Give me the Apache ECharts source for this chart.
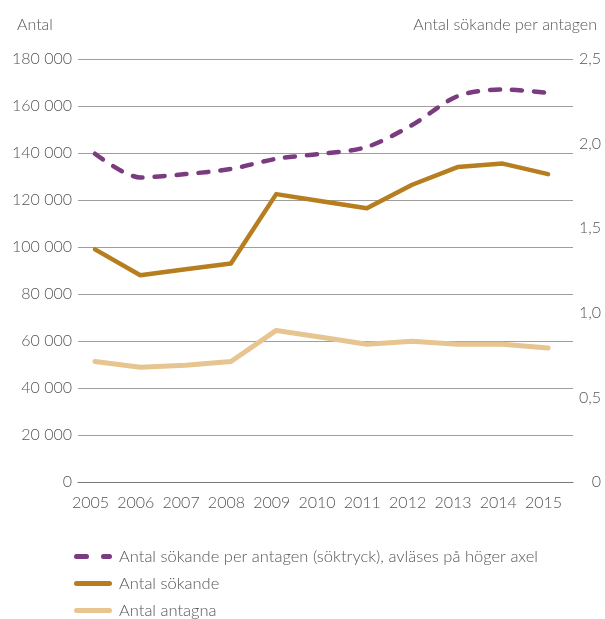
<!DOCTYPE html>
<html>
<head>
<meta charset="utf-8">
<script src="https://cdn.jsdelivr.net/npm/echarts@6/dist/echarts.min.js"></script>
<style>
  html, body { margin: 0; padding: 0; background: #fff; }
  #chart { width: 605px; height: 619px; }
</style>
</head>
<body>
<div id="chart"></div>
<script>
// år på x-axeln
var years = [2005, 2006, 2007, 2008, 2009, 2010, 2011, 2012, 2013, 2014, 2015];
var sokande = [99000, 88000, 90500, 93000, 122500, 119500, 116500, 126500, 134000, 135500, 131000];
var antagna = [51300, 48800, 49700, 51300, 64500, 61600, 58600, 59900, 58600, 58600, 57000];
var soktryck = [1.94, 1.80, 1.82, 1.85, 1.91, 1.94, 1.98, 2.11, 2.28, 2.32, 2.30];

var nameTryck = 'Antal sökande per antagen (söktryck), avläses på höger axel';
var nameSok = 'Antal sökande';
var nameAnt = 'Antal antagna';

var font = 'Lato';
var textColor = '#555';

// legendikoner: streckad och hel linje med runda ändar
var iconDash = 'path://M2.5,0H12.5A2.5,2.5 0 0 1 12.5,5H2.5A2.5,2.5 0 0 1 2.5,0Z' +
  'M29.5,0H35.5A2.5,2.5 0 0 1 35.5,5H29.5A2.5,2.5 0 0 1 29.5,0Z';
var iconLine = 'path://M2.5,0H35.5A2.5,2.5 0 0 1 35.5,5H2.5A2.5,2.5 0 0 1 2.5,0Z';

function pairs(vals) {
  var out = [];
  for (var i = 0; i < years.length; i++) {
    out.push([years[i], vals[i]]);
  }
  return out;
}

var myChart = echarts.init(document.getElementById('chart'));

var option = {
  backgroundColor: '#fff',
  animation: false,
  textStyle: { fontFamily: font, color: textColor },
  title: [
    { text: 'Antal', left: 12, top: 12,
      textStyle: { fontFamily: font, fontSize: 16, fontWeight: 300, color: textColor } },
    { text: 'Antal sökande per antagen', right: 3, top: 12,
      textStyle: { fontFamily: font, fontSize: 16, fontWeight: 300, color: textColor } }
  ],
  grid: { left: 78, right: 32, top: 59, bottom: 137 },
  legend: {
    orient: 'vertical',
    left: 74,
    top: 548,
    padding: 0,
    itemWidth: 38,
    itemHeight: 5,
    itemGap: 10,
    itemStyle: { borderWidth: 0 },
    textStyle: { fontFamily: font, fontSize: 16.5, fontWeight: 300, color: textColor, padding: [0, 0, 0, 2] },
    data: [
      { name: nameTryck, icon: iconDash },
      { name: nameSok, icon: iconLine },
      { name: nameAnt, icon: iconLine }
    ]
  },
  xAxis: {
    type: 'value',
    min: 2004.625,
    max: 2015.55,
    axisLine: { show: true, lineStyle: { color: '#7a7672', width: 1.2 } },
    axisTick: { show: false },
    splitLine: { show: false },
    axisLabel: {
      customValues: years,
      margin: 13,
      fontFamily: font,
      fontSize: 16,
      fontWeight: 300,
      color: textColor,
      padding: [0, 9, 0, 0],
      formatter: function (v) { return String(v); }
    }
  },
  yAxis: [
    {
      type: 'value',
      min: 0,
      max: 180000,
      interval: 20000,
      axisLine: { show: false },
      axisTick: { show: false },
      splitLine: { lineStyle: { color: '#a09d9a', width: 1.2 } },
      axisLabel: {
        margin: 6,
        fontFamily: font,
        fontSize: 16,
        fontWeight: 300,
        color: textColor,
        formatter: function (v) {
          return String(v).replace(/\B(?=(\d{3})+(?!\d))/g, ' ');
        }
      }
    },
    {
      type: 'value',
      min: 0,
      max: 2.5,
      interval: 0.5,
      position: 'right',
      axisLine: { show: false },
      axisTick: { show: false },
      splitLine: { show: false },
      axisLabel: {
        margin: 28,
        align: 'right',
        fontFamily: font,
        fontSize: 16,
        fontWeight: 300,
        color: textColor,
        formatter: function (v) {
          return v === 0 ? '0' : v.toFixed(1).replace('.', ',');
        }
      }
    }
  ],
  series: [
    {
      name: nameAnt,
      type: 'line',
      yAxisIndex: 0,
      data: pairs(antagna),
      symbol: 'none',
      color: '#e6c590',
      lineStyle: { width: 5, color: '#e6c590', cap: 'round', join: 'round' }
    },
    {
      name: nameSok,
      type: 'line',
      yAxisIndex: 0,
      data: pairs(sokande),
      symbol: 'none',
      color: '#b77e1f',
      lineStyle: { width: 4.5, color: '#b77e1f', cap: 'round', join: 'round' }
    },
    {
      name: nameTryck,
      type: 'line',
      yAxisIndex: 1,
      data: pairs(soktryck),
      symbol: 'none',
      smooth: 0.3,
      color: '#7b3b80',
      lineStyle: { width: 4.5, color: '#7b3b80', type: [10, 12], cap: 'round', join: 'round' }
    }
  ]
};

myChart.setOption(option);
</script>
</body>
</html>
